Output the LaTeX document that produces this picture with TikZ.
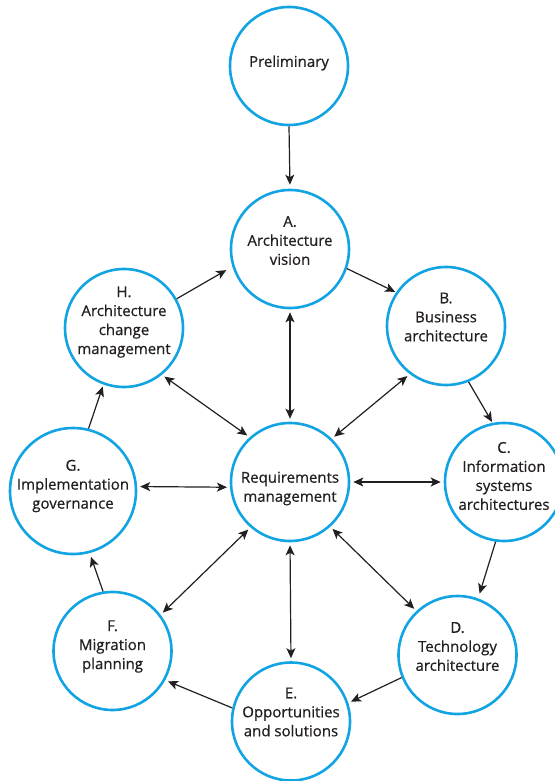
\documentclass[tikz,border=0pt]{standalone}
\usepackage{fontspec}
\newfontfamily\labelfont{Open Sans}[FakeBold=0.6]
\usetikzlibrary{arrows.meta}
\definecolor{ring}{RGB}{18,164,226}
\definecolor{ink}{RGB}{35,31,32}
\tikzset{
  phase/.style={circle, draw=ring, line width=2.6pt, fill=white, inner sep=0pt,
    minimum size=118pt},
  bigphase/.style={phase, minimum size=126pt},
  txt/.style={align=center, text=ink, inner sep=0pt,
    font=\labelfont\fontsize{15pt}{19pt}\selectfont},
  one/.style={draw=ink, line width=1.2pt, -{Stealth[length=10pt,width=9pt,inset=2.5pt]}},
  two/.style={draw=ink, line width=1.2pt, {Stealth[length=10pt,width=9pt,inset=2.5pt]}-{Stealth[length=10pt,width=9pt,inset=2.5pt]}, shorten <=3pt, shorten >=3pt}
}
\begin{document}
\begin{tikzpicture}[x=1pt,y=-1pt]
\useasboundingbox (0,0) rectangle (554,781);
\node[phase] (P) at (289,66) {};
\node[phase] (A) at (290,249) {};
\node[phase] (H) at (124,328) {};
\node[phase] (B) at (446,326) {};
\node[phase] (R) at (290,482) {};
\node[bigphase] (G) at (73,491) {};
\node[phase] (C) at (504,482) {};
\node[phase] (F) at (112.5,651) {};
\node[phase] (D) at (457.5,655) {};
\node[phase] (E) at (291,721.5) {};

% texts
\node[txt, yshift=3pt] (Pt) at (P) {Preliminary};
\node[txt, yshift=8.5pt] (At) at (A) {A.\\Architecture\\vision};
\node[txt, yshift=6pt] (Ht) at (H) {H.\\Architecture\\change\\management};
\node[txt, yshift=9pt] (Bt) at (B) {B.\\Business\\architecture};
\node[txt, yshift=-6.5pt] (Rt) at (R) {Requirements\\management};
\node[txt, yshift=5pt] (Gt) at (G) {G.\\Implementation\\governance};
\node[txt, yshift=6pt] (Ct) at (C) {C.\\Information\\systems\\architectures};
\node[txt, yshift=4.5pt] (Ft) at (F) {F.\\Migration\\planning};
\node[txt, yshift=8.5pt] (Dt) at (D) {D.\\Technology\\architecture};
\node[txt, yshift=9.5pt] (Et) at (E) {E.\\Opportunities\\and solutions};

% cycle
\draw[one, shorten >=4pt] (P.south) -- (A.north);
\draw[one, shorten >=1pt] (A.-19) -- (B.146);
\draw[one, shorten >=1pt] (B.-68) -- (C.101);
\draw[one, shorten >=5pt] (C.-98) -- (D.70);
\draw[one, shorten >=3pt] (D.202) -- (E.18);
\draw[one, shorten >=3pt] (E.167) -- (F.-29);
\draw[one, shorten >=4pt] (F.99) -- (G.-75);
\draw[one, shorten >=2pt] (G.76) -- (H.-110);
\draw[one, shorten >=7pt] (H.29) -- (A.197);

% requirements
\draw[two] (R.north) -- (A.south);
\draw[two] (R.132) -- (H.-51);
\draw[two] (R.46) -- (B.-127);
\draw[two] (R.east) -- (C.west);
\draw[two] (R.185) -- (G.4);
\draw[two] (R.-131) -- (F.37);
\draw[two] (R.south) -- (E.north);
\draw[two] (R.-48) -- (D.133);
\end{tikzpicture}
\end{document}
